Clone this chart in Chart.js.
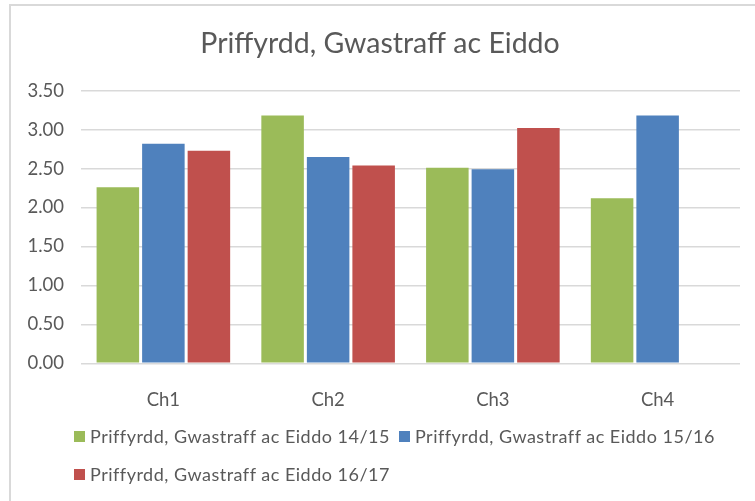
<!DOCTYPE html>
<html>
<head>
<meta charset="utf-8">
<script src="https://cdn.jsdelivr.net/npm/chart.js@4/dist/chart.umd.min.js"></script>
<style>
  html, body { margin: 0; padding: 0; width: 755px; height: 501px; overflow: hidden; background: #fff; }
  #frame { position: absolute; left: 9px; top: 4px; width: 900px; height: 700px;
           border-left: 2px solid #d9d9d9; border-top: 2px solid #d9d9d9; }
  #c { position: absolute; left: 0; top: 0; }
  #legend { position: absolute; left: 74px; top: 426px; width: 660px;
            display: flex; flex-wrap: wrap; row-gap: 17px;
            font-family: Lato, sans-serif; font-size: 18px; letter-spacing: 0.5px;
            color: #595959; line-height: 21px; }
  .item { display: inline-flex; align-items: center; margin-right: 9px; white-space: nowrap; }
  .box { width: 11px; height: 11px; margin-right: 5px; }
</style>
</head>
<body>
<div id="frame"></div>
<canvas id="c" width="755" height="501"></canvas>
<div id="legend"></div>
<script>
const titleText = 'Priffyrdd, Gwastraff ac Eiddo';
const categories = ['Ch1', 'Ch2', 'Ch3', 'Ch4'];
const seriesNames = [
  'Priffyrdd, Gwastraff ac Eiddo 14/15',
  'Priffyrdd, Gwastraff ac Eiddo 15/16',
  'Priffyrdd, Gwastraff ac Eiddo 16/17'
];
const values1415 = [2.26, 3.18, 2.51, 2.12];
const values1516 = [2.82, 2.65, 2.49, 3.18];
const values1617 = [2.73, 2.54, 3.02, null];
const seriesColors = ['#9BBB59', '#4F81BD', '#C0504D'];
const yTicks = [0, 0.5, 1, 1.5, 2, 2.5, 3, 3.5];

const allValues = [values1415, values1516, values1617];
const chart = new Chart(document.getElementById('c'), {
  type: 'bar',
  data: {
    labels: categories,
    datasets: allValues.map((v, i) => ({
      label: seriesNames[i],
      data: v,
      backgroundColor: seriesColors[i],
      borderWidth: 0,
      categoryPercentage: 0.829,
      barPercentage: 0.934
    }))
  },
  options: {
    responsive: false,
    animation: false,
    devicePixelRatio: 1,
    layout: { padding: { left: 20, right: 15, top: 0, bottom: 0 } },
    plugins: {
      legend: { display: false },
      tooltip: { enabled: false },
      title: {
        display: true,
        text: titleText,
        color: '#595959',
        font: { family: 'Lato, sans-serif', size: 28.5, weight: 'normal', lineHeight: 1.2 },
        padding: { top: 27, bottom: 29.5 }
      }
    },
    scales: {
      x: {
        grid: { display: false },
        border: { display: false },
        ticks: { color: '#595959', font: { family: 'Lato, sans-serif', size: 18.5 }, padding: 17.5 },
        afterFit: s => { s.height = 137.7; }
      },
      y: {
        min: 0, max: 3.5,
        afterBuildTicks: s => { s.ticks = yTicks.map(v => ({ value: v })); },
        ticks: {
          color: '#595959',
          font: { family: 'Lato, sans-serif', size: 18.5 },
          padding: 17,
          callback: v => Number(v).toFixed(2)
        },
        grid: { color: '#d9d9d9', lineWidth: 1.5, drawTicks: false },
        border: { display: false },
        afterFit: s => { s.width = 61; }
      }
    }
  }
});

const legendEl = document.getElementById('legend');
chart.data.datasets.forEach(ds => {
  const item = document.createElement('span');
  item.className = 'item';
  const box = document.createElement('span');
  box.className = 'box';
  box.style.background = ds.backgroundColor;
  const txt = document.createElement('span');
  txt.textContent = ds.label;
  item.appendChild(box);
  item.appendChild(txt);
  legendEl.appendChild(item);
});
</script>
</body>
</html>
